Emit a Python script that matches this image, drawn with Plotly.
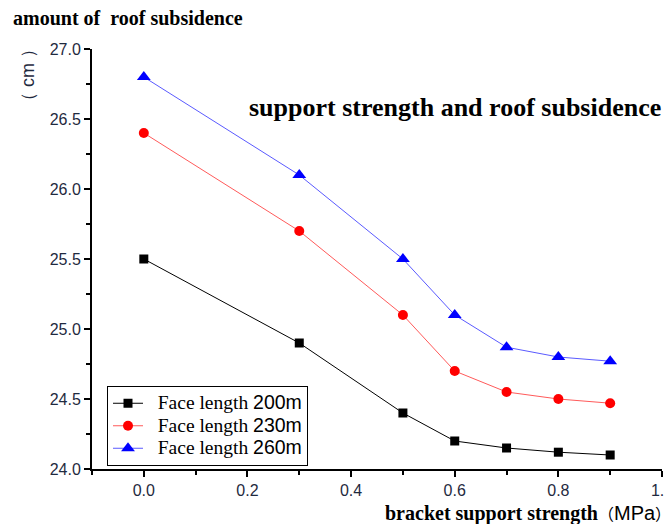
import plotly.graph_objects as go

strength = [0.0, 0.3, 0.5, 0.6, 0.7, 0.8, 0.9]
face200 = [25.5, 24.9, 24.4, 24.2, 24.15, 24.12, 24.1]
face230 = [26.4, 25.7, 25.1, 24.7, 24.55, 24.5, 24.47]
face260 = [26.8, 26.1, 25.5, 25.1, 24.87, 24.8, 24.77]

series = [
    ("200m", face200, "black", "black", "square", 9),
    ("230m", face230, "#ff5a5a", "red", "circle", 10),
    ("260m", face260, "#5a5aff", "blue", "triangle-up", 12),
]

# page body has an 8px margin; compensate so the plot lands where the reference has it
OFF = 8
W, H = 672 - OFF, 524 - OFF
L, R, T, B = 92 - OFF, 10, 49 - OFF, 55
PW, PH = W - L - R, H - T - B

fig = go.Figure()
for lab, vals, lc, mc, sym, ms in series:
    fig.add_trace(go.Scatter(
        x=strength, y=vals, mode="lines+markers",
        name="<span style='font-family:Liberation Serif;font-size:19.5px'>&nbsp;&nbsp;Face length </span>"
             "<span style='font-size:19.5px'>" + lab + "</span>",
        line=dict(color=lc, width=1),
        marker=dict(color=mc, symbol=sym, size=ms),
    ))

TICKCOL = "#1f2a40"
fig.update_layout(
    width=W, height=H,
    margin=dict(l=L, r=R, t=T, b=B),
    plot_bgcolor="white", paper_bgcolor="white",
    font=dict(family="Liberation Sans", color="#222"),
    legend=dict(
        x=(107 - 92) / PW, y=1 - (386 - 49) / PH, xanchor="left", yanchor="top",
        bordercolor="black", borderwidth=1, bgcolor="white",
        font=dict(family="Liberation Sans", size=15, color="black"),
        tracegroupgap=0, itemwidth=30,
    ),
    xaxis=dict(
        range=[-0.1, 1.0], dtick=0.2, tickformat=".1f", automargin=False,
        ticklabeloverflow="allow",
        showgrid=False, zeroline=False,
        showline=True, linecolor="black", linewidth=2,
        ticks="outside", ticklen=6, tickwidth=1.5, tickcolor="black",
        minor=dict(dtick=0.1, ticks="outside", ticklen=4, tickcolor="black"),
        tickfont=dict(size=16, color=TICKCOL),
    ),
    yaxis=dict(
        range=[24.0, 27.0], dtick=0.5, tickformat=".1f", automargin=False,
        showgrid=False, zeroline=False,
        showline=True, linecolor="black", linewidth=2,
        ticks="outside", ticklen=6, tickwidth=1.5, tickcolor="black",
        minor=dict(dtick=0.25, ticks="outside", ticklen=4, tickcolor="black"),
        tickfont=dict(size=16, color=TICKCOL),
    ),
    showlegend=True,
)

def px(xp):
    return (xp - 92) / PW

def py(yp):
    return 1 - (yp - 49) / PH

CJK = "<span style=\"font-family:'Noto Sans CJK SC';font-size:%dpx\">%s</span>"

fig.add_annotation(text="<b>amount of  roof subsidence</b>", xref="paper", yref="paper",
                   x=px(11), y=py(18), xanchor="left", yanchor="middle", showarrow=False,
                   font=dict(family="Liberation Serif", size=20, color="black"))
fig.add_annotation(text="（ cm ）",
                   xref="paper", yref="paper",
                   x=px(28), y=py(75), xanchor="center", yanchor="middle", showarrow=False,
                   textangle=-90, font=dict(family="Liberation Sans", size=18, color=TICKCOL))
fig.add_annotation(text="<b>support strength and roof subsidence</b>", xref="paper", yref="paper",
                   x=px(247), y=py(108), xanchor="left", yanchor="middle", showarrow=False,
                   font=dict(family="Liberation Serif", size=26, color="black"))
fig.add_annotation(text="<b>bracket support strength</b>" + (CJK % (16, "（"))
                        + "<span style='font-family:Liberation Sans'>MPa</span>" + (CJK % (16, "）")),
                   xref="paper", yref="paper",
                   x=px(383), y=py(513), xanchor="left", yanchor="middle", showarrow=False,
                   font=dict(family="Liberation Serif", size=20, color="black"))

fig.write_html("out.html")
